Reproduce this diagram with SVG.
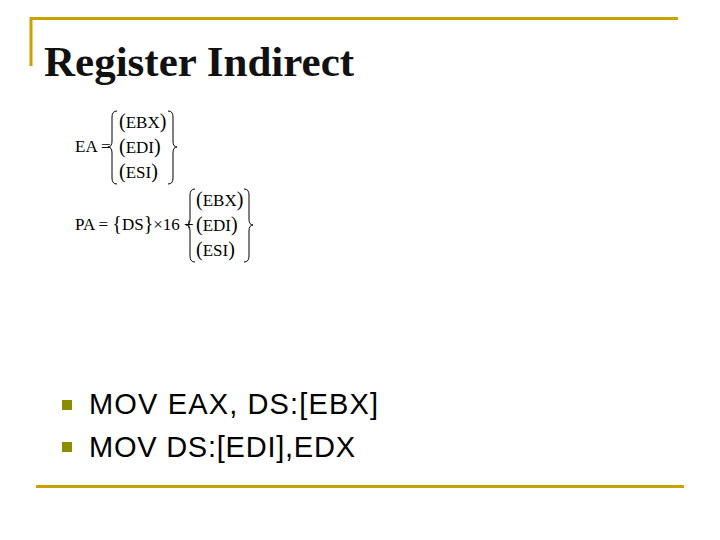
<svg xmlns="http://www.w3.org/2000/svg" width="720" height="540" viewBox="0 0 720 540">
<style>
.f{font-family:"Liberation Serif",serif;font-size:17px;fill:#000}
.p{font-family:"Liberation Serif",serif;font-size:20px;fill:#000}
.b{fill:none;stroke:#000;stroke-width:1}
.fr{stroke:#c9a100;stroke-width:3;fill:none}
.t{font-family:"Liberation Sans",Arial,sans-serif;font-size:29px;fill:#000}
</style>
<rect width="720" height="540" fill="#fff"/>
<g id="frame">
<path class="fr" d="M31 66 V18.5 H678"/>
<path class="fr" d="M36 486.5 H684"/>
</g>
<text x="44" y="76" style="font-family:'Liberation Serif',serif;font-size:43px;font-weight:bold;fill:#111">Register Indirect</text>
<g id="ea">
<text class="f" x="75" y="152">EA =</text>
<path class="b" d="M117 111 Q112 111 112 117 V141 Q112 147 108 147 Q112 147 112 153 V178 Q112 184 117 184"/>
<path class="b" d="M168 111 Q173 111 173 117 V141 Q173 147 177 147 Q173 147 173 153 V178 Q173 184 168 184"/>
<text class="f" x="119" y="128"><tspan class="p">(</tspan>EBX<tspan class="p">)</tspan></text>
<text class="f" x="119" y="153"><tspan class="p">(</tspan>EDI<tspan class="p">)</tspan></text>
<text class="f" x="119" y="178"><tspan class="p">(</tspan>ESI<tspan class="p">)</tspan></text>
</g>
<g id="pa">
<text class="f" x="75" y="230">PA = <tspan class="p">{</tspan>DS<tspan class="p">}</tspan>×16 +</text>
<path class="b" d="M195 189 Q190 189 190 195 V219 Q190 225 186 225 Q190 225 190 231 V256 Q190 262 195 262"/>
<path class="b" d="M244 189 Q249 189 249 195 V219 Q249 225 253 225 Q249 225 249 231 V256 Q249 262 244 262"/>
<text class="f" x="196" y="206"><tspan class="p">(</tspan>EBX<tspan class="p">)</tspan></text>
<text class="f" x="196" y="231"><tspan class="p">(</tspan>EDI<tspan class="p">)</tspan></text>
<text class="f" x="196" y="256"><tspan class="p">(</tspan>ESI<tspan class="p">)</tspan></text>
</g>
<g id="bullets">
<rect x="62" y="400" width="10" height="10" fill="#8c8c00"/>
<rect x="62" y="442" width="10" height="10" fill="#8c8c00"/>
<text class="t" x="89" y="414" textLength="289" lengthAdjust="spacing">MOV EAX, DS:[EBX]</text>
<text class="t" x="89" y="457" textLength="266" lengthAdjust="spacing">MOV DS:[EDI],EDX</text>
</g>
</svg>
